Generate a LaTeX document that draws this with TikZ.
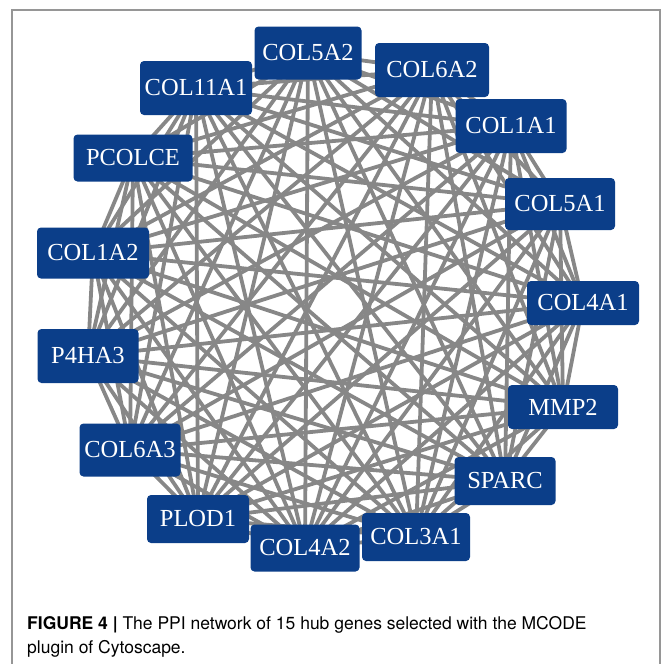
\documentclass[tikz,border=0pt]{standalone}
\usepackage{fontspec}
\setmainfont{Liberation Serif}
\newfontfamily\capfont{TeX Gyre Heros}
\usetikzlibrary{backgrounds}
\definecolor{nodeblue}{RGB}{11,62,137}
\definecolor{edgegray}{RGB}{135,135,135}
\definecolor{framegray}{RGB}{150,150,150}
\tikzset{
  gene/.style={fill=nodeblue, rounded corners=4pt, text=white, inner sep=0pt,
    font=\fontsize{24.5}{26}\selectfont},
  edge/.style={draw=edgegray, line width=3.8pt},
  captext/.style={anchor=base west, inner sep=0pt, font=\capfont\fontsize{17.5}{21}\selectfont}
}
\begin{document}
\begin{tikzpicture}[x=1pt,y=-1pt]
\useasboundingbox (0,0) rectangle (664,664);
\draw[framegray, line width=1.5pt] (12,670) -- (12,10) -- (660,10) -- (660,670);
\node[gene, minimum width=107pt, minimum height=53pt] (n1) at (308,53) {COL5A2};
\node[gene, minimum width=114pt, minimum height=54pt] (n2) at (432,70) {COL6A2};
\node[gene, minimum width=111pt, minimum height=54pt] (n3) at (511,126) {COL1A1};
\node[gene, minimum width=110pt, minimum height=52pt] (n4) at (560,204) {COL5A1};
\node[gene, minimum width=112pt, minimum height=44pt] (n5) at (583,303) {COL4A1};
\node[gene, minimum width=110pt, minimum height=44pt] (n6) at (563,407) {MMP2};
\node[gene, minimum width=101pt, minimum height=48pt] (n7) at (505,481) {SPARC};
\node[gene, minimum width=108pt, minimum height=48pt] (n8) at (416,537) {COL3A1};
\node[gene, minimum width=109pt, minimum height=47pt] (n9) at (305,548) {COL4A2};
\node[gene, minimum width=102pt, minimum height=48pt] (n10) at (198,519) {PLOD1};
\node[gene, minimum width=101pt, minimum height=53pt] (n11) at (130,450) {COL6A3};
\node[gene, minimum width=101pt, minimum height=54pt] (n12) at (88,356) {P4HA3};
\node[gene, minimum width=112pt, minimum height=51pt] (n13) at (93,253) {COL1A2};
\node[gene, minimum width=119pt, minimum height=47pt] (n14) at (133,158) {PCOLCE};
\node[gene, minimum width=112pt, minimum height=54pt] (n15) at (196,88) {COL11A1};
\begin{pgfonlayer}{background}
\foreach \i in {1,...,15}{
  \foreach \j in {1,...,15}{
    \ifnum\i<\j
      \draw[edge] (n\i.center) -- (n\j.center);
    \fi
  }
}
\end{pgfonlayer}
\node[captext] (cap1) at (27,629) {\textbf{FIGURE 4 |} The PPI network of 15 hub genes selected with the MCODE};
\node[captext] (cap2) at (27,653) {plugin of Cytoscape.};
\end{tikzpicture}
\end{document}
